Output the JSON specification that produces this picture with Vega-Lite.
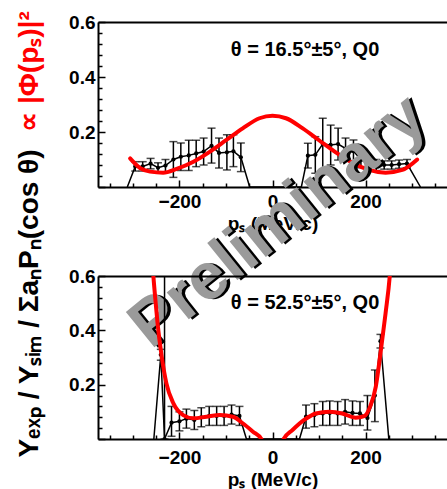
{
  "$schema": "https://vega.github.io/schema/vega-lite/v6.json",
  "background": "white",
  "padding": {"left": 14, "top": 10, "right": 0, "bottom": 2},
  "autosize": {"type": "pad"},
  "bounds": "flush",
  "spacing": 89,
  "config": {
    "view": {"stroke": null},
    "axis": {
      "grid": false,
      "labelFont": "Liberation Sans",
      "titleFont": "Liberation Sans",
      "labelFontWeight": "bold",
      "titleFontWeight": "bold",
      "labelColor": "black",
      "titleColor": "black",
      "domainColor": "black",
      "tickColor": "black",
      "labelFontSize": 19,
      "titleFontSize": 19
    }
  },
  "datasets": {
    "top_data": [
      {"p": -312, "v": 0, "lo": 0, "hi": 0},
      {"p": -295, "v": 0.075, "lo": 0.058, "hi": 0.092},
      {"p": -279, "v": 0.075, "lo": 0.058, "hi": 0.092},
      {"p": -262, "v": 0.085, "lo": 0.066, "hi": 0.104},
      {"p": -246, "v": 0.07, "lo": 0.052, "hi": 0.088},
      {"p": -230, "v": 0.078, "lo": 0.055, "hi": 0.1},
      {"p": -213, "v": 0.1, "lo": 0.035, "hi": 0.165},
      {"p": -197, "v": 0.11, "lo": 0.06, "hi": 0.16},
      {"p": -180, "v": 0.115, "lo": 0.06, "hi": 0.17},
      {"p": -164, "v": 0.122, "lo": 0.074, "hi": 0.17},
      {"p": -148, "v": 0.129, "lo": 0.08, "hi": 0.178},
      {"p": -131, "v": 0.15, "lo": 0.087, "hi": 0.214},
      {"p": -115, "v": 0.124, "lo": 0.069, "hi": 0.178},
      {"p": -98, "v": 0.126, "lo": 0.062, "hi": 0.19},
      {"p": -84, "v": 0.13, "lo": 0.074, "hi": 0.19},
      {"p": -68, "v": 0.108, "lo": 0.056, "hi": 0.16},
      {"p": -49, "v": 0, "lo": 0, "hi": 0},
      {"p": 62, "v": 0, "lo": 0, "hi": 0},
      {"p": 76, "v": 0.114, "lo": 0.069, "hi": 0.159},
      {"p": 92, "v": 0.117, "lo": 0.05, "hi": 0.183},
      {"p": 108, "v": 0.156, "lo": 0.062, "hi": 0.25},
      {"p": 125, "v": 0.153, "lo": 0.08, "hi": 0.225},
      {"p": 141, "v": 0.156, "lo": 0.098, "hi": 0.214},
      {"p": 157, "v": 0.14, "lo": 0.1, "hi": 0.178},
      {"p": 174, "v": 0.13, "lo": 0.09, "hi": 0.171},
      {"p": 190, "v": 0.1, "lo": 0.07, "hi": 0.13},
      {"p": 207, "v": 0.08, "lo": 0.06, "hi": 0.1},
      {"p": 223, "v": 0.08, "lo": 0.06, "hi": 0.1},
      {"p": 240, "v": 0.08, "lo": 0.065, "hi": 0.095},
      {"p": 256, "v": 0.08, "lo": 0.065, "hi": 0.095},
      {"p": 272, "v": 0.083, "lo": 0.068, "hi": 0.098},
      {"p": 289, "v": 0.085, "lo": 0.07, "hi": 0.1},
      {"p": 318, "v": 0, "lo": 0, "hi": 0}
    ],
    "top_fit": [
      {"p": -306, "v": 0.104}, {"p": -284, "v": 0.068}, {"p": -263, "v": 0.056},
      {"p": -235, "v": 0.052}, {"p": -206, "v": 0.066}, {"p": -170, "v": 0.092},
      {"p": -135, "v": 0.128}, {"p": -99, "v": 0.171}, {"p": -64, "v": 0.213},
      {"p": -28, "v": 0.25}, {"p": 0, "v": 0.259}, {"p": 29, "v": 0.25},
      {"p": 65, "v": 0.213}, {"p": 100, "v": 0.17}, {"p": 136, "v": 0.126},
      {"p": 172, "v": 0.088}, {"p": 207, "v": 0.062}, {"p": 243, "v": 0.052},
      {"p": 279, "v": 0.062}, {"p": 311, "v": 0.1}
    ],
    "bottom_data": [
      {"p": -255, "v": 0, "lo": 0, "hi": 0},
      {"p": -240, "v": 0.31, "lo": 0.29, "hi": 0.33},
      {"p": -232, "v": 0.0, "lo": 0.0, "hi": 0.75},
      {"p": -217, "v": 0.06, "lo": 0.01, "hi": 0.12},
      {"p": -200, "v": 0.065, "lo": 0.03, "hi": 0.1},
      {"p": -185, "v": 0.075, "lo": 0.04, "hi": 0.11},
      {"p": -168, "v": 0.07, "lo": 0.035, "hi": 0.105},
      {"p": -153, "v": 0.08, "lo": 0.045, "hi": 0.115},
      {"p": -136, "v": 0.085, "lo": 0.05, "hi": 0.12},
      {"p": -120, "v": 0.085, "lo": 0.05, "hi": 0.12},
      {"p": -104, "v": 0.085, "lo": 0.05, "hi": 0.12},
      {"p": -88, "v": 0.09, "lo": 0.055, "hi": 0.125},
      {"p": -71, "v": 0.085, "lo": 0.05, "hi": 0.12},
      {"p": -56, "v": 0, "lo": 0, "hi": 0},
      {"p": 58, "v": 0, "lo": 0, "hi": 0},
      {"p": 72, "v": 0.082, "lo": 0.04, "hi": 0.125},
      {"p": 90, "v": 0.088, "lo": 0.045, "hi": 0.13},
      {"p": 108, "v": 0.094, "lo": 0.05, "hi": 0.138},
      {"p": 123, "v": 0.096, "lo": 0.05, "hi": 0.14},
      {"p": 140, "v": 0.094, "lo": 0.05, "hi": 0.138},
      {"p": 156, "v": 0.1, "lo": 0.055, "hi": 0.145},
      {"p": 172, "v": 0.096, "lo": 0.05, "hi": 0.14},
      {"p": 188, "v": 0.094, "lo": 0.05, "hi": 0.138},
      {"p": 204, "v": 0.077, "lo": 0.033, "hi": 0.16},
      {"p": 220, "v": 0.16, "lo": 0.064, "hi": 0.254},
      {"p": 232, "v": 0.36, "lo": 0.335, "hi": 0.385},
      {"p": 250, "v": 0, "lo": 0, "hi": 0}
    ],
    "bottom_fit": [
      {"p": -262, "v": 0.75}, {"p": -256, "v": 0.6}, {"p": -251, "v": 0.5},
      {"p": -247, "v": 0.426}, {"p": -238, "v": 0.303}, {"p": -228, "v": 0.205},
      {"p": -213, "v": 0.131}, {"p": -192, "v": 0.088}, {"p": -170, "v": 0.076},
      {"p": -142, "v": 0.082}, {"p": -113, "v": 0.088}, {"p": -85, "v": 0.082},
      {"p": -64, "v": 0.058}, {"p": -42, "v": 0.027}, {"p": -24, "v": 0.0},
      {"p": -12, "v": -0.05}, {"p": 0, "v": -0.06}, {"p": 12, "v": -0.05},
      {"p": 24, "v": 0.0}, {"p": 43, "v": 0.033}, {"p": 68, "v": 0.07},
      {"p": 93, "v": 0.094}, {"p": 122, "v": 0.1}, {"p": 150, "v": 0.094},
      {"p": 179, "v": 0.078}, {"p": 197, "v": 0.084}, {"p": 210, "v": 0.12},
      {"p": 222, "v": 0.193}, {"p": 232, "v": 0.315}, {"p": 243, "v": 0.463},
      {"p": 252, "v": 0.6}, {"p": 258, "v": 0.75}
    ],
    "ann_top": [{"p": 70, "v": 0.5, "t": "θ = 16.5°±5°, Q0"}],
    "ann_bottom": [{"p": 70, "v": 0.5, "t": "θ = 52.5°±5°, Q0"}],
    "wm": [{"p": 12, "v": -0.125, "t": "Preliminary"}]
  },
  "vconcat": [
    {
      "width": 349,
      "height": 165,
      "resolve": {"axis": {"x": "independent", "y": "independent"}},
      "layer": [
        {
          "data": {"name": "top_data"},
          "mark": {"type": "line", "color": "black", "strokeWidth": 1.5, "clip": true},
          "encoding": {
            "x": {"field": "p", "type": "quantitative",
              "scale": {"domain": [-375, 375], "nice": false, "zero": false},
              "axis": {"orient": "bottom", "values": [-200, 0, 200], "ticks": false, "domainWidth": 2, "labelPadding": 5, "labelFlush": false, "title": "pₛ (MeV/c)", "titlePadding": 3}},
            "y": {"field": "v", "type": "quantitative",
              "scale": {"domain": [0, 0.6], "nice": false, "zero": false},
              "axis": {"orient": "left", "values": [0.2, 0.4, 0.6], "format": ".1f", "ticks": false, "domainWidth": 2, "labelPadding": 3,
                "title": "∝ |Φ(pₛ)|²", "titleColor": "#ff0000", "titleFontSize": 28, "titleX": -61, "titleY": 49, "titleBaseline": "alphabetic", "titleAlign": "center", "titleAngle": 270}}
          }
        },
        {
          "data": {"name": "top_data"},
          "transform": [{"filter": "datum.hi > datum.lo"}],
          "mark": {"type": "errorbar", "color": "black", "thickness": 1.5, "clip": true, "ticks": {"size": 8, "thickness": 1.5, "color": "black"}},
          "encoding": {
            "x": {"field": "p", "type": "quantitative", "axis": null},
            "y": {"field": "lo", "type": "quantitative", "axis": null},
            "y2": {"field": "hi"}
          }
        },
        {
          "data": {"name": "top_data"},
          "transform": [{"filter": "datum.hi > datum.lo"}],
          "mark": {"type": "point", "filled": true, "color": "black", "size": 18, "opacity": 1, "clip": true},
          "encoding": {
            "x": {"field": "p", "type": "quantitative",
              "axis": {"orient": "bottom", "values": [-200, 0, 200], "labels": false, "domain": false, "title": null, "tickSize": -7, "tickWidth": 1.5}},
            "y": {"field": "v", "type": "quantitative",
              "axis": {"orient": "left", "values": [0, 0.2, 0.4, 0.6], "labels": false, "domain": false, "title": null, "tickSize": -7, "tickWidth": 1.5}}
          }
        },
        {
          "data": {"name": "top_fit"},
          "mark": {"type": "line", "color": "#ff0000", "strokeWidth": 4, "interpolate": "monotone", "strokeCap": "round", "clip": true},
          "encoding": {
            "x": {"field": "p", "type": "quantitative",
              "axis": {"orient": "bottom", "values": [-350, -300, -250, -150, -100, -50, 50, 100, 150, 250, 300, 350], "labels": false, "domain": false, "title": null, "tickSize": -4, "tickWidth": 1.5}},
            "y": {"field": "v", "type": "quantitative",
              "axis": {"orient": "left", "values": [0.04, 0.08, 0.12, 0.16, 0.24, 0.28, 0.32, 0.36, 0.44, 0.48, 0.52, 0.56], "labels": false, "domain": false, "title": null, "tickSize": -4, "tickWidth": 1.5}}
          }
        },
        {
          "data": {"name": "ann_top"},
          "mark": {"type": "text", "font": "Liberation Sans", "fontWeight": "bold", "fontSize": 20, "color": "black", "align": "center", "baseline": "middle"},
          "encoding": {
            "x": {"field": "p", "type": "quantitative",
              "axis": {"orient": "top", "ticks": false, "labels": false, "title": null, "domainWidth": 2}},
            "y": {"field": "v", "type": "quantitative", "axis": null},
            "text": {"field": "t"}
          }
        },
        {
          "data": {"name": "wm"},
          "mark": {"type": "text", "font": "Liberation Sans", "fontSize": 66, "fontWeight": "bold", "color": "black", "align": "center", "baseline": "middle", "angle": -39, "dx": 2.5, "dy": 2.5},
          "encoding": {
            "x": {"field": "p", "type": "quantitative", "axis": null},
            "y": {"field": "v", "type": "quantitative", "axis": null},
            "text": {"field": "t"}
          }
        },
        {
          "data": {"name": "wm"},
          "mark": {"type": "text", "font": "Liberation Sans", "fontSize": 66, "fontWeight": "bold", "color": "#9a9a9a", "align": "center", "baseline": "middle", "angle": -39},
          "encoding": {
            "x": {"field": "p", "type": "quantitative", "axis": null},
            "y": {"field": "v", "type": "quantitative", "axis": null},
            "text": {"field": "t"}
          }
        }
      ]
    },
    {
      "width": 349,
      "height": 163,
      "resolve": {"axis": {"x": "independent", "y": "independent"}},
      "layer": [
        {
          "data": {"name": "bottom_data"},
          "mark": {"type": "line", "color": "black", "strokeWidth": 1.5, "clip": true},
          "encoding": {
            "x": {"field": "p", "type": "quantitative",
              "scale": {"domain": [-375, 375], "nice": false, "zero": false},
              "axis": {"orient": "bottom", "values": [-200, 0, 200], "ticks": false, "domainWidth": 2, "labelPadding": 9, "labelFlush": false, "title": "pₛ (MeV/c)", "titlePadding": 3}},
            "y": {"field": "v", "type": "quantitative",
              "scale": {"domain": [0, 0.6], "nice": false, "zero": false},
              "axis": {"orient": "left", "values": [0.2, 0.4, 0.6], "format": ".1f", "ticks": false, "domainWidth": 2, "labelPadding": 3,
                "title": "Yₑₓₚ / Yₛᵢₘ / ΣaₙPₙ(cos θ)", "titleColor": "black", "titleFontSize": 28, "titleX": -61, "titleY": 27, "titleBaseline": "alphabetic", "titleAlign": "center", "titleAngle": 270}}
          }
        },
        {
          "data": {"name": "bottom_data"},
          "transform": [{"filter": "datum.hi > datum.lo"}],
          "mark": {"type": "errorbar", "color": "black", "thickness": 1.5, "clip": true, "ticks": {"size": 8, "thickness": 1.5, "color": "black"}},
          "encoding": {
            "x": {"field": "p", "type": "quantitative", "axis": null},
            "y": {"field": "lo", "type": "quantitative", "axis": null},
            "y2": {"field": "hi"}
          }
        },
        {
          "data": {"name": "bottom_data"},
          "transform": [{"filter": "datum.hi > datum.lo"}],
          "mark": {"type": "point", "filled": true, "color": "black", "size": 18, "opacity": 1, "clip": true},
          "encoding": {
            "x": {"field": "p", "type": "quantitative",
              "axis": {"orient": "bottom", "values": [-200, 0, 200], "labels": false, "domain": false, "title": null, "tickSize": -7, "tickWidth": 1.5}},
            "y": {"field": "v", "type": "quantitative",
              "axis": {"orient": "left", "values": [0, 0.2, 0.4, 0.6], "labels": false, "domain": false, "title": null, "tickSize": -7, "tickWidth": 1.5}}
          }
        },
        {
          "data": {"name": "bottom_fit"},
          "mark": {"type": "line", "color": "#ff0000", "strokeWidth": 4, "interpolate": "monotone", "strokeCap": "round", "clip": true},
          "encoding": {
            "x": {"field": "p", "type": "quantitative",
              "axis": {"orient": "bottom", "values": [-350, -300, -250, -150, -100, -50, 50, 100, 150, 250, 300, 350], "labels": false, "domain": false, "title": null, "tickSize": -4, "tickWidth": 1.5}},
            "y": {"field": "v", "type": "quantitative",
              "axis": {"orient": "left", "values": [0.04, 0.08, 0.12, 0.16, 0.24, 0.28, 0.32, 0.36, 0.44, 0.48, 0.52, 0.56], "labels": false, "domain": false, "title": null, "tickSize": -4, "tickWidth": 1.5}}
          }
        },
        {
          "data": {"name": "ann_bottom"},
          "mark": {"type": "text", "font": "Liberation Sans", "fontWeight": "bold", "fontSize": 20, "color": "black", "align": "center", "baseline": "middle"},
          "encoding": {
            "x": {"field": "p", "type": "quantitative",
              "axis": {"orient": "top", "ticks": false, "labels": false, "title": null, "domainWidth": 2}},
            "y": {"field": "v", "type": "quantitative", "axis": null},
            "text": {"field": "t"}
          }
        }
      ]
    }
  ]
}
